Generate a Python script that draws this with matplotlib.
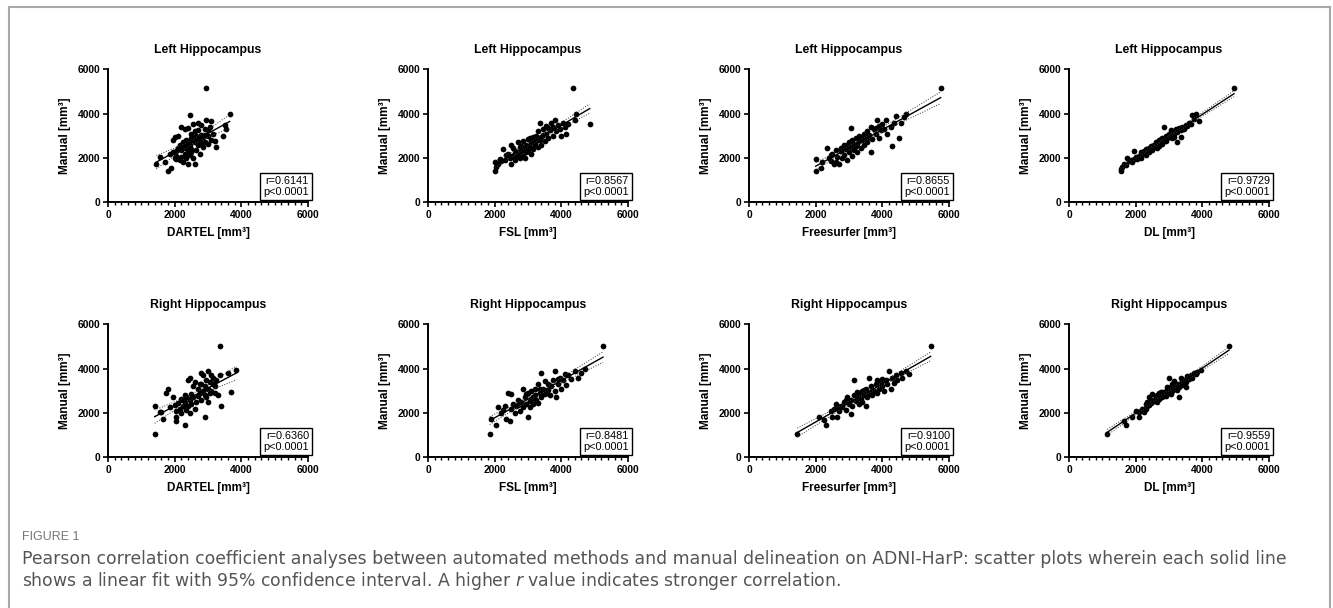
import matplotlib
matplotlib.use("Agg")
import matplotlib.pyplot as plt
import numpy as np
from matplotlib.ticker import MultipleLocator
from matplotlib.lines import Line2D

plt.rcParams['font.family'] = ['Liberation Sans', 'DejaVu Sans']

# ---- data (estimated from the figure), (method volume, manual volume) in mm3 ----
left_dartel = [(1450,1720),(1550,2050),(1700,1800),(1800,1430),(1850,2200),(1900,1550),(1950,2800),(1950,2250),
    (2000,2000),(2000,2950),(2050,2300),(2050,2100),(2100,3000),(2100,2450),(2150,1900),(2150,2600),(2200,2050),
    (2200,2350),(2200,3400),(2250,2700),(2250,1800),(2300,2200),(2300,2550),(2300,3300),(2350,2000),(2350,2450),
    (2350,2800),(2400,1750),(2400,2300),(2400,3350),(2450,2600),(2450,2150),(2450,3950),(2500,2400),(2500,2900),
    (2500,3100),(2550,2000),(2550,3550),(2600,1720),(2600,2700),(2600,3200),(2650,2350),(2650,3000),(2700,2600),
    (2700,3250),(2700,3600),(2750,2800),(2750,2200),(2800,3050),(2800,3500),(2850,2500),(2850,2950),(2900,2700),
    (2900,3300),(2950,5150),(2950,3700),(3000,2650),(3000,3000),(3050,3400),(3100,2800),(3100,3650),(3150,3100),
    (3200,2750),(3250,2500),(3450,3000),(3500,3500),(3550,3300),(3650,3980),(2050,1950),(2250,2450),(2500,2250),
    (2700,2850),(2900,3050),(2350,2650),(2600,2950),(2800,2650),(3000,3250),(2450,2750)]

left_fsl = [(2000,1430),(2000,1800),(2050,1600),(2100,1750),(2150,1950),(2250,2400),(2300,1900),(2400,2200),
    (2450,2000),(2500,1750),(2500,2600),(2550,2100),(2600,1900),(2600,2300),(2650,2050),(2700,2700),(2700,2200),
    (2750,2000),(2750,2500),(2800,2300),(2850,2100),(2850,2750),(2900,2450),(2900,2000),(2950,2600),(3000,2300),
    (3000,2850),(3050,2500),(3100,2200),(3100,2700),(3150,2950),(3150,2400),(3200,2600),(3250,3000),(3250,2750),
    (3300,2500),(3300,3200),(3350,2800),(3350,3600),(3400,2600),(3400,2950),(3450,3300),(3500,2750),(3550,3100),
    (3550,3450),(3600,2900),(3650,3250),(3700,3600),(3750,3000),(3750,3400),(3800,3700),(3850,3200),(3900,3500),
    (3950,3300),(4000,3000),(4050,3600),(4100,3400),(4150,3100),(4200,3550),(4350,5150),(4400,3700),(4450,4000),
    (4850,3550),(2350,2150),(2550,2450),(2800,2550),(3050,2900),(3200,2850),(3450,3050),(3600,3350),(2200,1850),
    (2950,2250)]

left_freesurfer = [(2000,1430),(2000,1950),(2150,1550),(2200,1800),(2350,2450),(2400,2000),(2450,1850),(2500,2200),
    (2550,1750),(2600,1800),(2650,2050),(2700,1750),(2750,2300),(2800,2000),(2850,2600),(2850,2150),(2900,2400),
    (2950,1900),(3000,2700),(3000,2250),(3050,2500),(3050,3350),(3100,2100),(3150,2650),(3150,2350),(3200,2900),
    (3200,2550),(3250,2250),(3300,2750),(3300,3000),(3350,2450),(3400,2800),(3450,3100),(3450,2600),(3500,2900),
    (3550,3200),(3550,2700),(3600,3050),(3650,2250),(3650,3400),(3700,2850),(3750,3300),(3800,3100),(3850,3700),
    (3900,2900),(3950,3250),(4000,3550),(4050,3300),(4100,3700),(4150,3100),(4250,3400),(4300,2550),(4350,3600),
    (4400,3900),(4500,2900),(4550,3600),(4650,3850),(4700,4000),(5750,5150),(2600,2350),(2750,2450),(2950,2600),
    (3100,2800),(3350,2900),(3600,2950),(3800,3350),(2450,2150),(3250,2650),(3900,3450)]

left_dl = [(1550,1430),(1550,1500),(1600,1580),(1650,1750),(1700,1700),(1750,2000),(1800,1850),(1850,1900),
    (1900,1800),(1950,2300),(1950,1950),(2000,2050),(2050,1950),(2100,2100),(2150,2000),(2200,2200),(2250,2300),
    (2300,2150),(2300,2400),(2350,2350),(2400,2250),(2400,2450),(2450,2400),(2500,2550),(2500,2350),(2550,2600),
    (2600,2500),(2600,2700),(2650,2650),(2700,2550),(2700,2800),(2750,2700),(2800,2900),(2800,2650),(2850,3400),
    (2850,2800),(2900,3000),(2900,2750),(2950,2900),(3000,3100),(3000,2950),(3050,3050),(3100,2900),(3100,3200),
    (3150,3100),(3200,3300),(3250,2700),(3250,3150),(3300,3350),(3350,2950),(3350,3250),(3400,3400),(3450,3300),
    (3500,3500),(3550,3450),(3600,3600),(3650,3550),(3700,3950),(3750,3750),(3800,3980),(3900,3650),(4950,5150),
    (2150,2250),(2450,2550),(2650,2450),(2750,2850),(3050,3250),(3150,2950)]

right_dartel = [(1400,1050),(1400,2300),(1550,2050),(1600,2050),(1650,1750),(1750,2900),(1800,3100),(1850,2250),
    (1950,2700),(2000,2350),(2050,1800),(2050,1650),(2050,2100),(2100,2450),(2150,2200),(2200,2650),(2200,2000),
    (2250,2300),(2300,1450),(2300,2800),(2300,2500),(2350,2150),(2350,2700),(2400,3500),(2400,2300),(2450,3600),
    (2450,2600),(2450,2000),(2500,2850),(2500,2400),(2550,2700),(2600,3400),(2650,2500),(2700,3100),(2700,2750),
    (2750,2900),(2750,3300),(2800,2600),(2800,3800),(2850,3000),(2850,3700),(2900,1800),(2900,2800),(2900,3200),
    (2950,3500),(2950,2700),(3000,3900),(3000,3100),(3050,3400),(3050,2900),(3100,3700),(3100,3000),(3150,3300),
    (3150,3600),(3200,3200),(3250,3500),(3300,2800),(3350,5000),(3350,3700),(3400,2300),(3600,3800),(3700,2950),
    (3850,3950),(2600,2200),(2250,2600),(2550,3200),(3000,2500),(2800,3300),(3200,2900)]

right_fsl = [(1850,1050),(1900,1750),(2050,1450),(2100,2250),(2200,2000),(2250,2150),(2350,1750),(2400,2900),
    (2450,1650),(2500,2850),(2500,2200),(2550,2400),(2600,2000),(2650,2300),(2700,2600),(2750,2100),(2800,2500),
    (2850,3100),(2850,2250),(2900,2700),(2950,2400),(3000,1800),(3000,2900),(3050,2550),(3050,2250),(3100,3000),
    (3100,2650),(3150,2400),(3200,2800),(3200,3100),(3250,2600),(3300,3300),(3300,2450),(3350,2900),(3400,3800),
    (3400,2700),(3450,3100),(3500,3450),(3500,2850),(3550,3000),(3600,3300),(3650,2800),(3700,3200),(3750,3500),
    (3800,3900),(3800,3000),(3850,2700),(3900,3300),(3950,3600),(4000,3100),(4050,3500),(4100,3750),(4150,3250),
    (4200,3700),(4300,3550),(4400,3900),(4500,3600),(4600,3800),(4700,4000),(5250,5000),(2700,2350),(2950,2850),
    (3150,2700),(3350,3100),(3600,3050),(2300,2300),(3900,3550)]

right_freesurfer = [(1450,1050),(2100,1800),(2250,1700),(2300,1450),(2450,2100),(2500,1800),(2550,2200),(2600,2400),
    (2650,1800),(2700,2100),(2750,2300),(2800,2250),(2850,2500),(2900,2150),(2950,2700),(3000,2400),(3050,1950),
    (3050,2600),(3100,2300),(3150,2800),(3150,3500),(3200,2550),(3250,2700),(3300,2400),(3300,2900),(3350,2650),
    (3400,3000),(3400,2500),(3450,2800),(3500,3100),(3500,2300),(3550,2700),(3600,2900),(3600,3600),(3650,3200),
    (3700,2800),(3750,3000),(3800,3300),(3850,2900),(3900,3100),(3950,3400),(4000,3200),(4050,3000),(4100,3500),
    (4150,3300),(4200,3900),(4250,3100),(4300,3600),(4350,3350),(4400,3700),(4450,3500),(4550,3800),(4600,3600),
    (4700,3900),(4800,3750),(5450,5000),(2650,2300),(2900,2600),(3250,2950),(3700,3050),(4000,3550),(3450,3050),
    (3850,3500)]

right_dl = [(1150,1050),(1650,1650),(1700,1450),(1900,1800),(2000,2100),(2100,1800),(2100,2050),(2200,2200),
    (2250,2050),(2300,2400),(2300,2200),(2350,2500),(2350,2300),(2400,2350),(2450,2600),(2450,2450),(2500,2850),
    (2500,2500),(2550,2600),(2600,2700),(2600,2550),(2650,2800),(2700,2650),(2700,2900),(2750,2750),(2800,2700),
    (2800,2950),(2850,2800),(2900,3000),(2900,2750),(2950,2900),(3000,3600),(3000,3050),(3050,2850),(3050,3150),
    (3100,3000),(3150,3200),(3150,3450),(3200,3100),(3250,3300),(3300,2700),(3300,3150),(3350,3600),(3350,3350),
    (3400,3250),(3450,3500),(3500,3400),(3550,3650),(3600,3550),(3650,3700),(3700,3600),(3750,3800),(3800,3750),
    (3850,3850),(3950,3950),(4800,5000),(2400,2700),(2650,2500),(2750,2950),(2950,3150),(3100,3300),(3250,3050),
    (3500,3150)]

methods = ['DARTEL', 'FSL', 'Freesurfer', 'DL']
row_titles = ['Left Hippocampus', 'Right Hippocampus']
panel_data = [[left_dartel, left_fsl, left_freesurfer, left_dl],
              [right_dartel, right_fsl, right_freesurfer, right_dl]]
r_labels = [['0.6141', '0.8567', '0.8655', '0.9729'],
            ['0.6360', '0.8481', '0.9100', '0.9559']]

W, H = 1333, 608
fig = plt.figure(figsize=(W / 100, H / 100), dpi=100)

lefts = [108, 428, 749, 1069]
bottoms = [202.3, 457.3]

for row in range(2):
    for col in range(4):
        ax = fig.add_axes([lefts[col] / W, (H - bottoms[row]) / H, 200 / W, 133 / H])
        pts = np.array(panel_data[row][col], dtype=float)
        x, y = pts[:, 0], pts[:, 1]

        # linear fit with 95% confidence band
        slope, intercept = np.polyfit(x, y, 1)
        n = len(x)
        xs = np.linspace(x.min(), x.max(), 100)
        fit = slope * xs + intercept
        resid = y - (slope * x + intercept)
        s = np.sqrt(np.sum(resid ** 2) / (n - 2))
        sxx = np.sum((x - x.mean()) ** 2)
        ci = 1.98 * s * np.sqrt(1 / n + (xs - x.mean()) ** 2 / sxx)

        ax.scatter(x, y, s=17, color='black', linewidths=0, zorder=3)
        ax.plot(xs, fit, color='black', lw=1.0, zorder=4)
        ax.plot(xs, fit + ci, color='#333333', lw=0.7, ls=':', zorder=4)
        ax.plot(xs, fit - ci, color='#333333', lw=0.7, ls=':', zorder=4)

        ax.set_xlim(0, 6000)
        ax.set_ylim(0, 6000)
        ax.set_xticks([0, 2000, 4000, 6000])
        ax.set_yticks([0, 2000, 4000, 6000])
        ax.xaxis.set_minor_locator(MultipleLocator(200))
        ax.spines['top'].set_visible(False)
        ax.spines['right'].set_visible(False)
        ax.spines['left'].set_linewidth(1.4)
        ax.spines['bottom'].set_linewidth(1.4)
        ax.tick_params(which='major', direction='out', length=3.5, width=1.2, labelsize=7.4, pad=2)
        ax.tick_params(which='minor', direction='out', length=2.5, width=1.0)
        for lab in ax.get_xticklabels() + ax.get_yticklabels():
            lab.set_fontweight('bold')

        ax.set_title(row_titles[row], fontsize=8.8, fontweight='bold', pad=12)
        ax.set_xlabel(methods[col] + ' [mm³]', fontsize=8.5, fontweight='bold', labelpad=5)
        ax.set_ylabel('Manual [mm³]', fontsize=8.5, fontweight='bold', labelpad=5)

        ax.text(1.005, 0.04, 'r=' + r_labels[row][col] + '\np<0.0001', transform=ax.transAxes,
                ha='right', va='bottom', fontsize=7.8, linespacing=1.15,
                bbox=dict(boxstyle='square,pad=0.28', fc='white', ec='black', lw=1.0), zorder=5)

# outer frame
frame_col = '#a8a8a8'
fig.add_artist(Line2D([9 / W, 1330 / W], [1 - 7 / H, 1 - 7 / H], color=frame_col, lw=1.5, transform=fig.transFigure))
fig.add_artist(Line2D([9 / W, 9 / W], [0, 1 - 7 / H], color=frame_col, lw=1.5, transform=fig.transFigure))
fig.add_artist(Line2D([1330 / W, 1330 / W], [0, 1 - 7 / H], color=frame_col, lw=1.5, transform=fig.transFigure))

# caption
fig.text(22 / W, 1 - 537 / H, 'FIGURE 1', fontsize=9, color='#777777', va='center')
fig.text(22 / W, 1 - 559 / H,
         'Pearson correlation coefficient analyses between automated methods and manual delineation on '
         'ADNI-HarP: scatter plots wherein each solid line',
         fontsize=12.45, color='#555555', family='DejaVu Sans', va='center')
fig.text(22 / W, 1 - 581 / H,
         'shows a linear fit with 95% confidence interval. A higher $r$ value indicates stronger correlation.',
         fontsize=12.45, color='#555555', family='DejaVu Sans', va='center')

fig.savefig('out.png', dpi=100)
